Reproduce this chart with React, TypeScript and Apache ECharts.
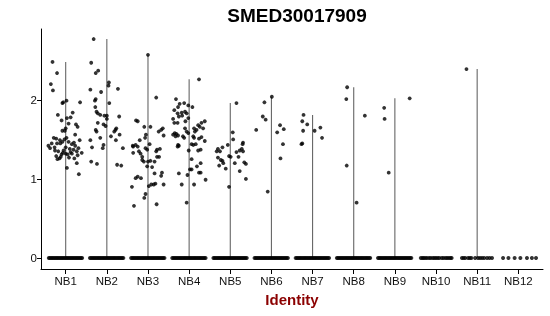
import React, { useEffect, useRef } from "react";
import * as echarts from "echarts";

const categories = ["NB1", "NB2", "NB3", "NB4", "NB5", "NB6", "NB7", "NB8", "NB9", "NB10", "NB11", "NB12"];
const yTicks = [0, 1, 2];

// non-zero expression points per category: [horizontal jitter (category units), value]
const nb1: number[][] = [
  [-0.32, 2.48], [-0.21, 2.34], [-0.36, 2.2], [-0.31, 2.12], [0.35, 1.97], [0.02, 1.99], [-0.08, 1.96], [-0.06, 1.97],
  [-0.19, 1.81], [0.17, 1.84], [0.03, 1.77], [0.12, 1.78], [-0.1, 1.74], [0.25, 1.69], [0.29, 1.66], [0.0, 1.64],
  [0.07, 1.7], [-0.08, 1.61], [-0.02, 1.61], [0.23, 1.56], [-0.29, 1.52], [-0.23, 1.51], [-0.14, 1.49], [-0.08, 1.47],
  [-0.03, 1.5], [0.02, 1.52], [0.07, 1.47], [-0.21, 1.45], [-0.13, 1.45], [0.15, 1.44], [0.23, 1.42], [0.31, 1.39],
  [-0.34, 1.45], [-0.38, 1.39], [-0.26, 1.36], [-0.18, 1.35], [-0.07, 1.33], [0.0, 1.32], [0.1, 1.38], [0.19, 1.37],
  [0.27, 1.35], [0.39, 1.33], [-0.23, 1.29], [-0.15, 1.26], [-0.1, 1.31], [0.05, 1.31], [0.15, 1.32], [0.21, 1.26],
  [0.29, 1.3], [0.34, 1.49], [0.27, 1.2], [0.03, 1.14], [0.32, 1.06], [-0.42, 1.42], [-0.2, 1.25], [-0.12, 1.28],
  [0.08, 1.27], [0.12, 1.34], [-0.05, 1.36], [0.0, 1.4], [0.2, 1.46], [-0.27, 1.4],
];
const nb2: number[][] = [
  [-0.32, 2.77], [-0.38, 2.47], [-0.21, 2.37], [-0.27, 2.34], [-0.4, 2.13], [-0.14, 2.1], [0.05, 2.22], [0.04, 2.18],
  [0.27, 2.14], [-0.27, 2.01], [-0.29, 1.99], [0.06, 1.96], [-0.28, 1.91], [-0.25, 1.85], [-0.22, 1.83], [-0.16, 1.81],
  [-0.06, 1.8], [0.0, 1.8], [0.0, 1.76], [0.3, 1.79], [-0.22, 1.71], [-0.08, 1.69], [-0.03, 1.67], [0.23, 1.64],
  [0.21, 1.62], [0.18, 1.6], [-0.27, 1.62], [-0.25, 1.6], [0.31, 1.56], [0.1, 1.54], [-0.16, 1.52], [-0.4, 1.49],
  [-0.36, 1.4], [-0.08, 1.43], [-0.1, 1.39], [0.22, 1.49], [0.39, 1.39], [-0.38, 1.22], [-0.24, 1.19], [0.25, 1.18],
  [0.35, 1.17],
];
const nb3: number[][] = [
  [0.0, 2.57], [0.2, 2.03], [-0.29, 1.74], [-0.25, 1.73], [-0.09, 1.66], [0.06, 1.66], [0.26, 1.6], [0.32, 1.62],
  [0.36, 1.64], [0.38, 1.55], [-0.05, 1.56], [-0.07, 1.52], [-0.2, 1.49], [-0.3, 1.43], [-0.36, 1.41], [-0.25, 1.41],
  [0.04, 1.44], [-0.06, 1.39], [-0.02, 1.37], [0.22, 1.37], [0.29, 1.38], [0.2, 1.35], [-0.22, 1.35], [-0.18, 1.32],
  [-0.14, 1.28], [-0.14, 1.24], [-0.1, 1.22], [0.0, 1.22], [0.06, 1.23], [0.22, 1.28], [0.27, 1.28], [0.16, 1.22],
  [-0.02, 1.16], [0.1, 1.15], [0.34, 1.08], [0.32, 1.04], [0.16, 1.07], [-0.25, 1.03], [-0.3, 1.01], [-0.17, 1.01],
  [-0.39, 0.9], [0.02, 0.91], [0.08, 0.93], [0.14, 0.93], [0.18, 0.94], [0.38, 0.93], [-0.06, 0.81], [-0.09, 0.76],
  [-0.34, 0.66], [0.21, 0.68], [-0.37, 1.42], [-0.36, 1.33],
];
const nb4: number[][] = [
  [0.24, 2.26], [-0.32, 2.01], [-0.23, 1.95], [-0.12, 1.96], [-0.02, 1.93], [0.08, 1.91], [-0.27, 1.91], [-0.36, 1.87],
  [-0.28, 1.83], [-0.18, 1.84], [-0.1, 1.85], [-0.06, 1.83], [-0.17, 1.8], [-0.25, 1.79], [-0.39, 1.76], [-0.36, 1.71],
  [-0.28, 1.71], [-0.09, 1.73], [-0.02, 1.77], [0.38, 1.73], [0.3, 1.71], [0.22, 1.68], [0.26, 1.66], [0.34, 1.64],
  [0.18, 1.62], [0.14, 1.6], [0.12, 1.64], [-0.1, 1.64], [-0.06, 1.6], [-0.02, 1.58], [-0.35, 1.58], [-0.39, 1.56],
  [-0.31, 1.57], [-0.27, 1.55], [-0.33, 1.54], [-0.15, 1.54], [-0.12, 1.52], [0.1, 1.54], [0.12, 1.52], [0.3, 1.53],
  [0.24, 1.51], [0.38, 1.48], [0.06, 1.44], [0.1, 1.43], [0.16, 1.44], [-0.27, 1.43], [-0.25, 1.42], [-0.28, 1.41],
  [-0.01, 1.36], [0.22, 1.36], [0.28, 1.37], [0.06, 1.25], [0.28, 1.2], [0.19, 1.16], [0.06, 1.12], [0.02, 1.12],
  [-0.25, 1.07], [-0.04, 1.05], [0.28, 1.08], [0.24, 1.08], [0.4, 0.99], [-0.18, 0.93], [0.12, 0.93], [-0.06, 0.7],
];
const nb5: number[][] = [
  [0.15, 1.96], [0.06, 1.59], [0.07, 1.5], [-0.06, 1.43], [-0.19, 1.4], [-0.3, 1.38], [-0.25, 1.35], [-0.33, 1.35],
  [0.31, 1.46], [0.3, 1.44], [0.28, 1.38], [0.23, 1.36], [0.31, 1.35], [-0.03, 1.29], [0.01, 1.28], [0.15, 1.34],
  [0.2, 1.28], [-0.3, 1.27], [-0.23, 1.24], [-0.19, 1.23], [-0.17, 1.2], [-0.27, 1.17], [0.11, 1.2], [0.34, 1.21],
  [0.38, 1.19], [-0.11, 1.13], [0.23, 1.1], [0.38, 1.0], [-0.03, 0.9],
];
const nb6: number[][] = [
  [0.01, 2.04], [-0.17, 1.97], [-0.21, 1.79], [-0.14, 1.75], [-0.37, 1.62], [0.21, 1.68], [0.3, 1.63], [0.14, 1.59],
  [0.28, 1.44], [0.22, 1.26], [-0.09, 0.84],
];
const nb7: number[][] = [
  [-0.22, 1.81], [-0.25, 1.73], [-0.13, 1.69], [-0.23, 1.61], [0.05, 1.61], [0.19, 1.65], [0.23, 1.52], [-0.25, 1.45],
  [-0.27, 1.44],
];
const nb8: number[][] = [[-0.16, 2.16], [-0.18, 2.01], [0.27, 1.8], [-0.17, 1.17], [0.07, 0.7]];
const nb9: number[][] = [[-0.26, 1.9], [-0.25, 1.76], [-0.15, 1.08], [0.36, 2.02]];
const nb10: number[][] = [];
const nb11: number[][] = [[-0.26, 2.39]];
const nb12: number[][] = [];
const expressed = [nb1, nb2, nb3, nb4, nb5, nb6, nb7, nb8, nb9, nb10, nb11, nb12];

// horizontal jitter of the zero-valued cells per category
const denseZero = [
  -0.41, -0.38, -0.35, -0.32, -0.29, -0.26, -0.23, -0.2, -0.17, -0.14, -0.11, -0.08, -0.05, -0.02, 0.01, 0.04, 0.07,
  0.1, 0.13, 0.16, 0.19, 0.22, 0.25, 0.28, 0.31, 0.34, 0.37, 0.4,
];
const nb10Zero = [-0.37, -0.33, -0.3, -0.26, -0.22, -0.17, -0.13, -0.08, -0.04, 0.0, 0.04, 0.08, 0.14, 0.18, 0.23, 0.27, 0.31, 0.35, 0.38];
const nb11Zero = [-0.37, -0.33, -0.29, -0.22, -0.18, -0.14, -0.05, 0.02, 0.07, 0.12, 0.17, 0.24, 0.3, 0.36];
const nb12Zero = [-0.37, -0.24, -0.09, 0.05, 0.21, 0.33, 0.43];
const zeroJitter = [denseZero, denseZero, denseZero, denseZero, denseZero, denseZero, denseZero, denseZero, denseZero, nb10Zero, nb11Zero, nb12Zero];

export default function App() {
  const ref = useRef<HTMLDivElement>(null);
  useEffect(() => {
    if (!ref.current) return;
    const chart = echarts.init(ref.current, null, { renderer: "svg" });
    const idx = categories.map((_, i) => i);
    const pointData: number[][] = [];
    expressed.forEach((pts, i) => pts.forEach(([o, v]) => pointData.push([i + o, v])));
    const zeroData: number[][] = [];
    zeroJitter.forEach((offs, i) => offs.forEach((o) => zeroData.push([i + o, 0])));
    const maxData = expressed.map((pts, i) => [i, pts.length ? Math.max(...pts.map((p) => p[1])) : 0]);
    const font = "'Liberation Sans', Arial, Helvetica, sans-serif";

    chart.setOption({
      animation: false,
      grid: { left: 41, right: 7, top: 29, bottom: 47, containLabel: false },
      title: {
        text: "SMED30017909",
        left: 292,
        top: 1,
        textAlign: "center",
        textStyle: { fontFamily: font, fontWeight: "bold", fontSize: 19, color: "#000" },
      },
      graphic: [
        {
          type: "text",
          x: 292,
          y: 299,
          style: {
            text: "Identity",
            fontFamily: font,
            fontWeight: "bold",
            fontSize: 15,
            fill: "#8B0000",
            textAlign: "center",
            textVerticalAlign: "middle",
          },
        },
      ],
      xAxis: {
        type: "value",
        min: -0.6,
        max: 11.6,
        splitLine: { show: false },
        axisLine: { show: true, onZero: false, lineStyle: { color: "#000", width: 1 } },
        axisTick: { show: true, length: 5, customValues: idx, lineStyle: { color: "#000" } },
        axisLabel: {
          customValues: idx,
          formatter: (v: number) => categories[Math.round(v)] ?? "",
          fontFamily: font,
          fontSize: 11.5,
          color: "#111",
          margin: 6,
        },
      },
      yAxis: {
        type: "value",
        min: -0.139,
        max: 2.897,
        splitLine: { show: false },
        axisLine: { show: true, onZero: false, lineStyle: { color: "#000", width: 1 } },
        axisTick: { show: true, length: 4, customValues: yTicks, lineStyle: { color: "#000" } },
        axisLabel: {
          customValues: yTicks,
          fontFamily: font,
          fontSize: 11.5,
          color: "#111",
          margin: 4,
        },
      },
      series: [
        {
          type: "custom",
          data: maxData,
          silent: true,
          renderItem: (params: any, api: any) => {
            const i = api.value(0);
            const m = api.value(1);
            if (!(m > 0)) return null;
            const p0 = api.coord([i, 0]);
            const p1 = api.coord([i, m]);
            return {
              type: "line",
              shape: { x1: p0[0], y1: p0[1], x2: p1[0], y2: p1[1] },
              style: { stroke: "#666", lineWidth: 1.1 },
            };
          },
        },
        {
          type: "scatter",
          data: zeroData,
          symbolSize: 4,
          itemStyle: { color: "#000" },
          silent: true,
        },
        {
          type: "scatter",
          data: pointData,
          symbolSize: 3.8,
          itemStyle: { color: "#000" },
          silent: true,
        },
      ],
    });
    return () => chart.dispose();
  }, []);
  return <div ref={ref} style={{ position: "fixed", left: 0, top: 0, width: 550, height: 316 }} />;
}
